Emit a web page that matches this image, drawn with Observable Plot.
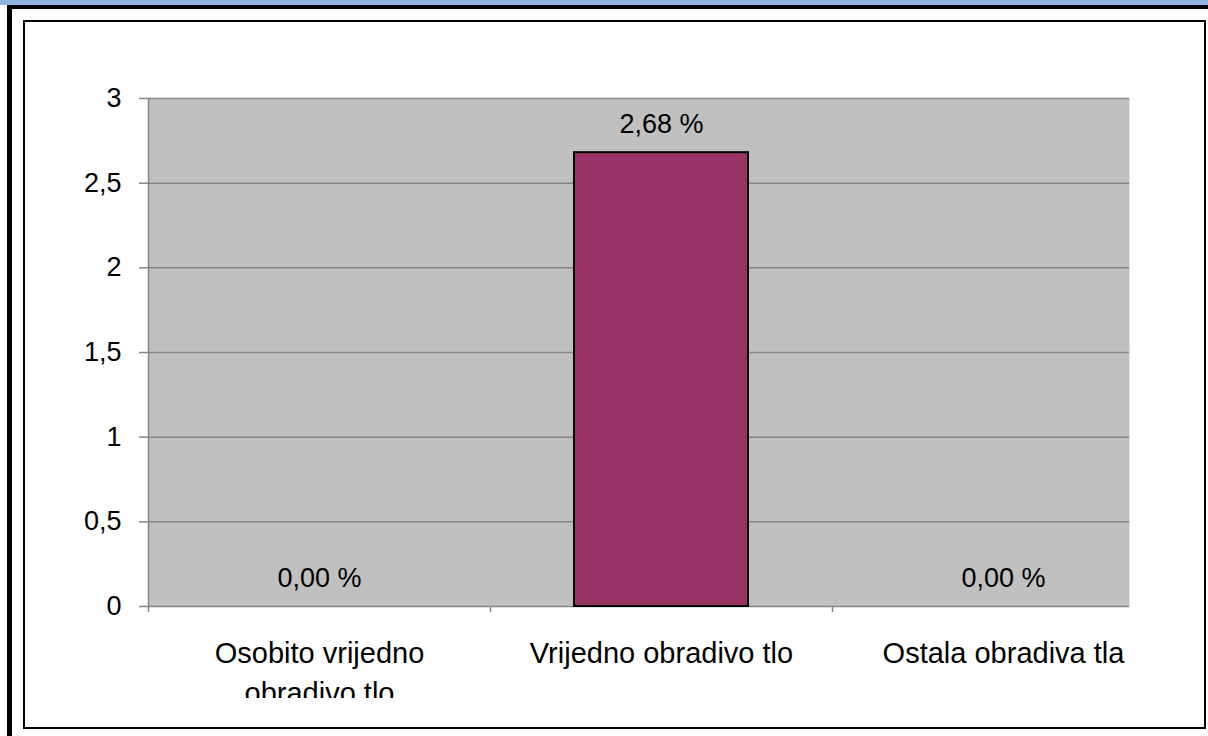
<!DOCTYPE html>
<html>
<head>
<meta charset="utf-8">
<script src="https://cdn.jsdelivr.net/npm/d3@7"></script>
<script src="https://cdn.jsdelivr.net/npm/@observablehq/plot@0.6"></script>
<style>
  html, body { margin: 0; padding: 0; background: #fff; }
  #page { position: relative; width: 1208px; height: 736px; overflow: hidden; font-family: "Liberation Sans", Arial, sans-serif; }
  #strip { position: absolute; left: 0; top: 0; width: 1208px; height: 5px; background: #8DB4E2; }
  #outer { position: absolute; left: 7px; top: 5px; width: 1210px; height: 740px; border-left: 5px solid #000; border-top: 4px solid #000; box-sizing: border-box; }
  #inner { position: absolute; left: 23px; top: 20px; width: 1183px; height: 709px; border: 2px solid #000; box-sizing: border-box; z-index: 2; }
  #chart { position: absolute; left: 0; top: 0; width: 1208px; height: 698px; overflow: hidden; z-index: 1; }
  #chart svg { background: none; overflow: hidden; }
</style>
</head>
<body>
<div id="page">
  <div id="strip"></div>
  <div id="outer"></div>
  <div id="inner"></div>
  <div id="chart"></div>
</div>
<script>
const categories = ["Osobito vrijedno obradivo tlo", "Vrijedno obradivo tlo", "Ostala obradiva tla"];
const categoryLabels = ["Osobito vrijedno\nobradivo tlo", "Vrijedno obradivo tlo", "Ostala obradiva tla"];
const values = [0, 2.68, 0];
const valueLabels = ["0,00 %", "2,68 %", "0,00 %"];
const yTicks = [0, 0.5, 1, 1.5, 2, 2.5, 3];
const yTickLabels = ["0", "0,5", "1", "1,5", "2", "2,5", "3"];

const rows = categories.map((c, i) => ({cat: c, value: values[i], label: valueLabels[i], catLabel: categoryLabels[i]}));

const xRange = [148, 1174];
const step = (xRange[1] - xRange[0]) / categories.length;
const font = "Liberation Sans, Arial, sans-serif";

const chart = Plot.plot({
  width: 1208,
  height: 698,
  marginTop: 98,
  marginLeft: 148,
  marginRight: 79,
  marginBottom: 92,
  style: {fontFamily: font, background: "none", overflow: "hidden", color: "#000"},
  x: {domain: categories, range: xRange, paddingInner: 0.49, paddingOuter: 0.245, axis: null},
  y: {domain: [0, 3], axis: null},
  marks: [
    Plot.frame({fill: "#C0C0C0"}),
    Plot.ruleY(yTicks, {stroke: "#868686", strokeWidth: 1.5}),
    Plot.frame({anchor: "left", stroke: "#868686", strokeWidth: 1.5}),
    Plot.axisY({
      ticks: yTicks,
      tickFormat: d => yTickLabels[yTicks.indexOf(d)],
      tickSize: 9,
      tickPadding: 18,
      stroke: "#868686",
      strokeWidth: 1.5,
      fill: "#000",
      fontSize: 27,
      label: null
    }),
    // bars
    Plot.barY(rows, {x: "cat", y: "value", fill: "#993366", stroke: "#000", strokeWidth: 2}),
    // value labels
    Plot.text(rows, {x: "cat", y: "value", text: "label", lineAnchor: "middle", dy: -28, fontSize: 27, fill: "#000"}),
    // category separators below the axis
    Plot.ruleX(categories, {x: d => d, y1: 0, y2: -0.036, dx: -step / 2, stroke: "#868686", strokeWidth: 1.5}),
    // category labels
    Plot.text(rows, {x: "cat", y: 0, text: "catLabel", lineAnchor: "top", dy: 28, lineHeight: 1.38, fontSize: 29, fill: "#000"})
  ]
});
document.getElementById("chart").appendChild(chart);
</script>
</body>
</html>
